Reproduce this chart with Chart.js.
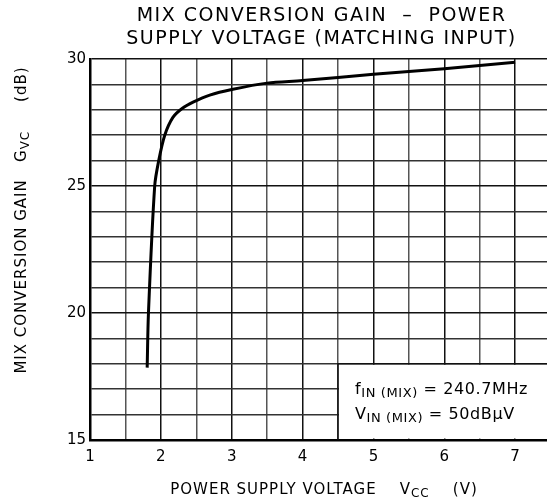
<!DOCTYPE html>
<html>
<head>
<meta charset="utf-8">
<script src="https://cdn.jsdelivr.net/npm/chart.js@4.4.1/dist/chart.umd.min.js"></script>
<style>
  html, body { margin: 0; padding: 0; background: #fff; overflow: hidden; }
  #wrap { width: 547px; height: 503px; }
</style>
</head>
<body>
<div id="wrap"><canvas id="chart" width="547" height="503"></canvas></div>
<script>
// datos
const vccValues = [1.807, 1.825, 1.913, 1.97, 2.055, 2.17, 2.3, 2.455, 2.69, 3.0, 3.5, 4.0, 5.0, 6.0, 7.0];
const gainValues = [17.85, 20.0, 25.0, 26.0, 27.0, 27.7, 28.05, 28.3, 28.58, 28.8, 29.05, 29.15, 29.4, 29.62, 29.87];
const xTicks = [1, 1.5, 2, 2.5, 3, 3.5, 4, 4.5, 5, 5.5, 6, 6.5, 7];
const yTicks = [15, 16, 17, 18, 19, 20, 21, 22, 23, 24, 25, 26, 27, 28, 29, 30];
const titleLines = ['MIX CONVERSION GAIN  –  POWER', 'SUPPLY VOLTAGE (MATCHING INPUT)'];

const FONT = '"DejaVu Sans", sans-serif';

// texto con subindice: partes [texto, esSub]
function drawParts(ctx, parts, x, y, size, subSize, align) {
    let total = 0;
    parts.forEach(p => {
        ctx.font = (p[1] ? subSize : size) + 'px ' + FONT;
        total += ctx.measureText(p[0]).width;
    });
    let cx = align === 'center' ? x - total / 2 : x;
    ctx.textAlign = 'left';
    parts.forEach(p => {
        ctx.font = (p[1] ? subSize : size) + 'px ' + FONT;
        ctx.fillText(p[0], cx, p[1] ? y + 3 : y);
        cx += ctx.measureText(p[0]).width;
    });
}

const decoPlugin = {
    id: 'deco',
    beforeDatasetsDraw(chart) {
        const ctx = chart.ctx;
        const xs = chart.scales.x, ys = chart.scales.y;
        const a = chart.chartArea;
        // caja de condiciones (tapa la rejilla)
        const bx = xs.getPixelForValue(4.5), by = ys.getPixelForValue(18);
        ctx.save();
        ctx.fillStyle = '#fff';
        ctx.fillRect(bx + 1, by + 1, a.right - bx + 10, a.bottom - by - 2.5);
        ctx.strokeStyle = '#111';
        ctx.lineWidth = 1.5;
        ctx.beginPath();
        ctx.moveTo(bx, a.bottom);
        ctx.lineTo(bx, by);
        ctx.lineTo(a.right + 10, by);
        ctx.stroke();
        ctx.fillStyle = '#000';
        ctx.textBaseline = 'alphabetic';
        ctx.letterSpacing = '0.6px';
        drawParts(ctx, [['f', false], ['IN (MIX)', true], [' = 240.7MHz', false]], bx + 17, by + 30, 16, 13, 'left');
        drawParts(ctx, [['V', false], ['IN (MIX)', true], [' = 50dB', false], ['μ', false], ['V', false]], bx + 17, by + 55, 16, 13, 'left');
        ctx.restore();
    },
    afterDraw(chart) {
        const ctx = chart.ctx;
        const a = chart.chartArea;
        ctx.save();
        ctx.fillStyle = '#000';
        ctx.textBaseline = 'alphabetic';
        ctx.textAlign = 'center';
        ctx.letterSpacing = '1.5px';
        ctx.font = '19px ' + FONT;
        const cx = (a.left + 547) / 2 + 3;
        ctx.fillText(titleLines[0], cx, 21);
        ctx.fillText(titleLines[1], cx, 44);
        // titulo eje X
        ctx.letterSpacing = '1px';
        drawParts(ctx, [['POWER SUPPLY VOLTAGE    V', false], ['CC', true], ['    (V)', false]], 324, 494, 15, 12, 'center');
        // titulo eje Y
        ctx.translate(26, 220);
        ctx.rotate(-Math.PI / 2);
        drawParts(ctx, [['MIX CONVERSION GAIN   G', false], ['VC', true], ['     (dB)', false]], 0, 0, 15, 12, 'center');
        ctx.restore();
    }
};

const ctx = document.getElementById('chart').getContext('2d');
new Chart(ctx, {
    type: 'line',
    data: {
        datasets: [{
            data: vccValues.map((v, i) => ({ x: v, y: gainValues[i] })),
            borderColor: '#000',
            borderWidth: 3,
            pointRadius: 0,
            tension: 0.3,
            fill: false
        }]
    },
    options: {
        responsive: false,
        animation: false,
        layout: { padding: { top: 59, right: 0, bottom: 0, left: 0 } },
        plugins: { legend: { display: false }, tooltip: { enabled: false } },
        scales: {
            x: {
                type: 'linear',
                min: 1,
                max: 7.45,
                afterBuildTicks: s => { s.ticks = xTicks.map(v => ({ value: v })); },
                afterFit: s => { s.height = 63; },
                grid: {
                    drawTicks: false,
                    lineWidth: 1.5,
                    color: c => (c.tick && c.tick.value % 1 === 0) ? '#111' : '#555'
                },
                border: { color: '#000', width: 2.5 },
                ticks: {
                    padding: 8,
                    color: '#000',
                    font: { family: FONT, size: 15 },
                    maxRotation: 0,
                    autoSkip: false,
                    callback: v => (v % 1 === 0 ? String(v) : '')
                }
            },
            y: {
                type: 'linear',
                min: 15,
                max: 30,
                afterBuildTicks: s => { s.ticks = yTicks.map(v => ({ value: v })); },
                afterFit: s => { s.width = 90; },
                grid: {
                    drawTicks: false,
                    lineWidth: 1.5,
                    color: c => (c.tick && c.tick.value % 5 === 0) ? '#111' : '#333'
                },
                border: { color: '#000', width: 2.5 },
                ticks: {
                    padding: 4,
                    color: '#000',
                    font: { family: FONT, size: 15 },
                    autoSkip: false,
                    callback: v => (v % 5 === 0 ? String(v) : '')
                }
            }
        }
    },
    plugins: [decoPlugin]
});
</script>
</body>
</html>
